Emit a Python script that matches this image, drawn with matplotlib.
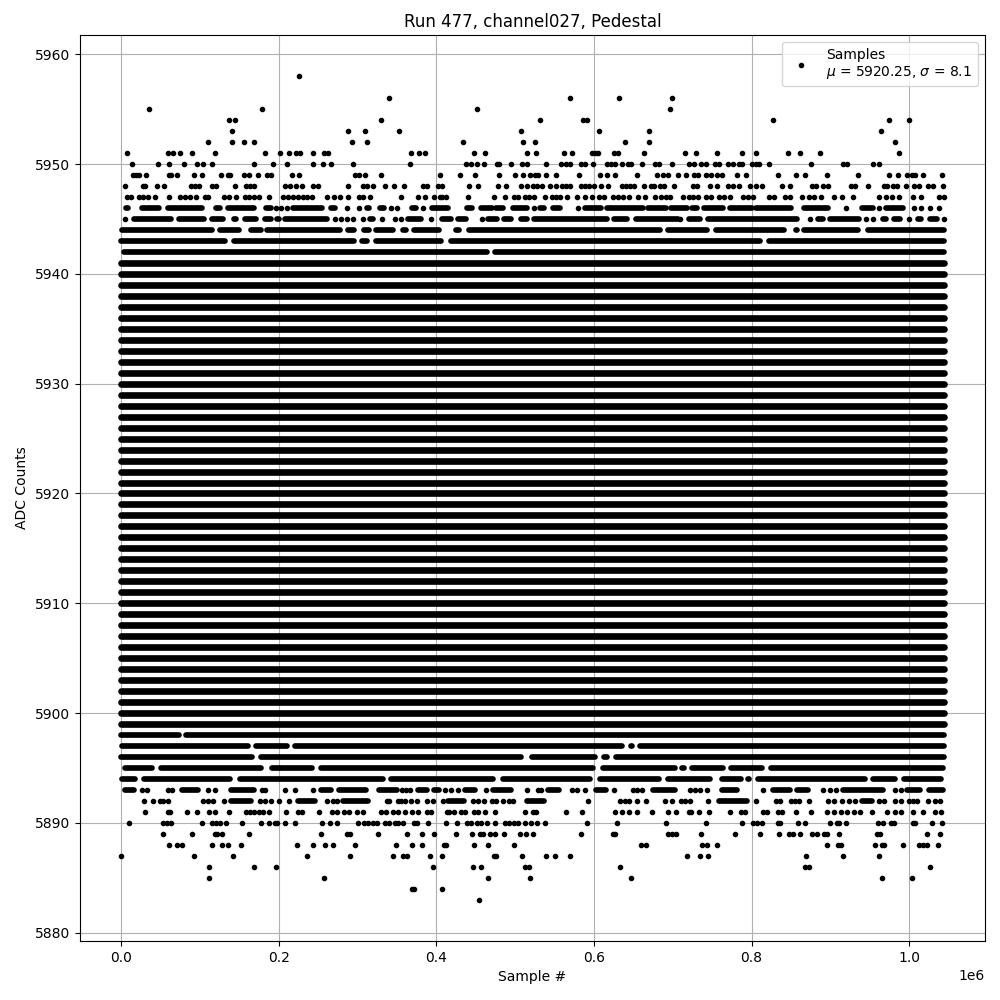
import matplotlib
matplotlib.use('Agg')
import matplotlib.pyplot as plt

# --- Configuration ---
TITLE = 'Run 477, channel027, Pedestal'
LEGEND_LABEL = 'Samples\n$\\mu$ = 5920.25, $\\sigma$ = 8.1'

# Separate samples per ADC level, sample # in thousands
s5958 = [226]
s5956 = [340, 569, 632, 699]
s5955 = [35.5, 179, 452, 697]
s5954 = [137.5, 144, 330, 532, 586, 591, 827, 975, 1000]
s5953 = [141, 288, 310, 352, 508, 607, 670, 964]
s5952 = [110, 141, 156, 169, 293, 312, 434, 510, 525, 640, 670, 982]
s5951 = [7.6, 60, 66, 75, 90, 119, 183, 202, 213, 222, 227, 244, 258, 263,
         368, 378, 386, 448, 462, 515, 527, 562, 572, 598, 601, 605, 626, 630, 664, 715,
         730, 756, 788, 806, 846, 862, 887, 987]
s5950 = [14, 47, 61, 80, 96, 104, 115, 168, 193, 211, 244, 256, 266, 294,
         367, 437, 444, 451, 461, 477, 480, 495, 509, 515, 539, 558, 564, 569, 583, 588,
         599, 617, 622, 627, 636, 643, 647, 661, 678, 683, 699, 720,
         727, 736, 742, 754, 759, 770, 777, 784, 788, 801, 805, 810, 822, 876, 916, 921, 954, 962]
s5949 = [15, 19, 23, 32, 61, 63, 71, 93, 102, 127, 136, 138, 156, 162, 174, 185, 190,
         217, 226, 297, 302, 310, 330,
         405, 430, 449, 480, 500, 510, 519, 525, 529, 539, 552, 581, 608, 616, 627, 654,
         680, 688, 694, 707, 717,
         727, 732, 742, 749, 756, 763, 782, 793, 833, 857, 868, 896, 935, 975, 986, 997,
         1003, 1008, 1017, 1042]
s5948 = [5, 28, 30, 46, 55, 89, 94, 99, 115, 120, 144, 159, 164, 169, 208, 214, 222, 230,
         244, 250, 288, 307, 312, 320, 335, 346,
         359, 383, 388, 402, 407, 442, 453, 478, 489, 508, 515, 523, 528, 534, 544, 552,
         560, 564, 570, 583, 589, 594, 600, 609, 618, 636, 641, 646, 651, 664, 673, 676,
         684, 689, 701,
         726, 731, 747, 756, 770, 777, 784, 798, 806, 813, 838, 849, 877, 882, 891, 897,
         926, 931, 948, 968, 972, 980, 985, 996, 1006, 1013, 1024, 1030, 1043]
s5947 = [8, 13, 23, 28, 34, 43, 61, 75, 81, 88, 95, 107, 110, 131, 137, 146, 157, 162,
         169, 175, 187, 206, 212, 218, 225, 231, 236, 242, 261, 270, 278, 288, 302, 307, 316,
         355, 377, 386, 397, 404, 407, 412, 440, 473, 487, 499, 503, 513, 518, 524, 538,
         547, 552, 557, 566, 578, 588, 597, 607, 613, 624, 631, 637, 645, 656, 665, 678,
         685, 692, 697, 713, 720,
         726, 732, 742, 749, 759, 765, 772, 789, 796, 802, 822, 829, 843, 849, 864, 873,
         879, 888, 905, 915, 929, 962, 971, 978, 987, 1005, 1015, 1038, 1044]
s5946 = [197, 203, 210, 287, 302, 343, 350, 383, 524, 580, 920, 962, 1006, 1015, 1027, 1038]
s5945 = [5, 272, 279, 287, 294, 307, 331, 347, 355, 393, 458, 709, 874, 945, 954, 1000, 1044]
s5893 = [27, 33, 60, 65, 110, 119, 179, 183, 208, 220, 244,
         356, 362, 366, 411, 419, 428, 463, 515, 529, 533, 572, 579, 588, 625,
         649, 655, 661,
         722, 728, 734, 744, 815, 891, 899, 907, 982, 989]
s5892 = [29, 41, 49, 53, 60, 104, 110, 117, 131, 176, 182, 190, 200, 213,
         261, 269, 274, 337, 340, 351,
         355, 360, 368, 375, 388, 396, 409, 447, 453, 461, 470, 476,
         485, 492, 497, 593, 633, 640, 645, 655, 666, 690, 699, 710,
         715, 722, 745, 806, 831, 836, 850, 855, 860, 873,
         897, 905, 915, 924, 931, 962, 968, 982, 989, 1000, 1005, 1010,
         1024, 1033, 1039]
s5891 = [30, 60, 62, 84, 96, 112, 119, 137, 159, 164, 169, 175, 180, 187, 209, 225, 230,
         251, 268, 274, 283, 289, 299, 307, 330, 336, 345, 351,
         360, 369, 377, 388, 393, 413, 416, 423, 431, 436, 448, 453, 462, 475, 513, 523,
         527, 565, 585, 627, 636, 645, 654, 674, 694, 704,
         720, 723, 733, 746, 772, 786, 792, 815, 820, 833, 838, 857, 876, 896, 904, 914,
         921, 930, 937, 953, 972, 982, 989, 1005, 1018, 1033, 1041]
s5890 = [10, 53, 58, 63, 103, 115, 121, 126, 133, 154, 178, 187, 195, 198, 208, 221, 255,
         265, 274, 301, 308, 313, 319, 325, 335, 340, 348, 351,
         358, 371, 376, 390, 412, 426, 439, 444, 451, 457, 464, 475, 487, 492, 499, 503,
         513, 520, 528, 538, 591, 629, 692,
         742, 788, 802, 807, 813, 833, 836, 859, 868, 900, 908, 911, 920, 961, 967, 977,
         981, 1005, 1008, 1029, 1042]
s5889 = [53, 90, 119, 122, 128, 162, 253, 286, 291, 326,
         363, 382, 397, 425, 445, 456, 459, 468, 475, 486, 506, 514, 523, 584, 624, 627,
         694, 699, 704,
         736, 779, 811, 835, 848, 853, 862, 877, 883, 892, 896, 911, 959, 963, 1023, 1039]
s5888 = [61, 71, 77, 115, 128, 135, 152, 223, 244, 259, 269, 297, 349,
         369, 382, 410, 412, 448, 466, 499, 660, 666,
         737, 744, 756, 896, 910, 914, 956, 965, 968, 992, 1013, 1018, 1022, 1036]
s5887 = [0, 93, 142, 236, 291, 345, 358, 363, 392, 407, 473, 476, 509, 539, 550, 569,
         718, 734, 745, 869, 916, 962]
s5886 = [112, 169, 197, 396, 447, 457, 513, 518, 633, 868, 873, 1027]
s5885 = [112, 258, 466, 519, 647, 966, 1004]
s5884 = [369, 372, 407]
s5883 = [454]

SPARSE_LEVELS = [5958, 5956, 5955, 5954, 5953, 5952, 5951, 5950, 5949, 5948, 5947, 5946, 5945,
                 5893, 5892, 5891, 5890, 5889, 5888, 5887, 5886, 5885, 5884, 5883]
SPARSE_SAMPLES = [s5958, s5956, s5955, s5954, s5953, s5952, s5951, s5950, s5949, s5948, s5947,
                  s5946, s5945, s5893, s5892, s5891, s5890, s5889, s5888, s5887, s5886, s5885,
                  s5884, s5883]

# Overplotted levels: runs of samples that merge into a solid stripe (start, end)
r5946 = [(6, 9), (26, 48), (60, 102), (120, 126), (135, 168), (184, 190), (218, 255),
         (266, 272), (312, 315), (328, 334), (369, 374), (395, 415), (439, 445), (457, 470),
         (476, 485), (497, 515), (532, 537), (548, 557), (589, 609), (617, 647), (649, 662),
         (668, 692), (698, 718), (725, 731), (739, 764), (772, 800), (805, 850), (867, 897),
         (940, 954), (970, 992)]
r5945 = [(16.5, 63.5), (73, 105), (115, 129), (143, 146), (157, 171), (182, 190), (198, 200),
         (208, 261), (316, 320), (364, 381), (407, 419), (427, 437), (466, 477), (486, 495),
         (508, 515), (524, 617), (626, 642), (653, 706), (721, 735), (745, 858), (884, 890),
         (899, 936), (967, 971), (981, 988), (1011, 1015), (1027, 1035)]
r5944 = [(1, 115), (125, 150), (158, 159), (165, 177), (185, 278), (288, 296), (308, 314),
         (324, 345), (358, 362), (372, 403), (413, 414), (425, 429), (441, 684), (694, 743),
         (755, 841), (857, 858), (867, 935), (948, 1044)]
r5943 = [(0, 132), (143, 295), (306, 312), (324, 406), (418, 811), (822, 1044)]
r5942 = [(3, 464), (474, 1044)]
r5898 = [(0, 74), (82, 1044)]
r5897 = [(1, 161), (171, 210), (220, 635), (647, 648), (658, 1044)]
r5896 = [(0, 166), (178, 508), (521, 601), (613, 617), (628, 1044)]
r5895 = [(5, 39), (50, 178), (191, 242), (253, 599), (612, 703), (712, 714), (724, 764),
         (774, 813), (825, 1043)]
r5894 = [(1, 18), (29, 138), (151, 332), (342, 472), (485, 595), (608, 682), (694, 747),
         (762, 787), (796, 797), (808, 944), (954, 982), (994, 1041)]
r5893 = [(5, 16), (77, 98), (140, 169), (254, 266), (277, 311), (327, 350), (377, 388),
         (397, 403), (436, 449), (472, 495), (542, 555), (602, 615), (675, 703), (763, 782),
         (827, 849), (858, 872), (916, 967), (997, 1014), (1025, 1043)]
r5892 = [(140, 165), (225, 246), (282, 313), (415, 435), (515, 536), (759, 794), (940, 953)]

RUN_LEVELS = [5946, 5945, 5944, 5943, 5942, 5898, 5897, 5896, 5895, 5894, 5893, 5892]
RUN_SPANS = [r5946, r5945, r5944, r5943, r5942, r5898, r5897, r5896, r5895, r5894, r5893, r5892]

# Levels that are one unbroken stripe across the whole run
BAND_LEVELS = list(range(5899, 5942))
BAND_START = 0
BAND_END = 1044


def main():
    fig, ax = plt.subplots(figsize=(10, 10))

    xs, ys = [], []
    for level, samples in zip(SPARSE_LEVELS, SPARSE_SAMPLES):
        xs += [s * 1000 for s in samples]
        ys += [level] * len(samples)
    ax.plot(xs, ys, 'k.', label=LEGEND_LABEL)

    # Stripes are about as wide as the dots, the full ones a little wider
    for level, spans in zip(RUN_LEVELS, RUN_SPANS):
        for start, end in spans:
            ax.hlines(level, start * 1000, end * 1000, color='k', linewidth=4.1,
                      capstyle='round', zorder=2)
    ax.hlines(BAND_LEVELS, BAND_START * 1000, BAND_END * 1000, color='k', linewidth=4.8,
              capstyle='round', zorder=2)

    ax.set_title(TITLE)
    ax.set_xlabel('Sample #')
    ax.set_ylabel('ADC Counts')
    ax.grid(True)
    ax.legend(loc='upper right')
    fig.subplots_adjust(left=0.08, right=0.985, top=0.965, bottom=0.059)
    fig.savefig('out.png', dpi=100)


if __name__ == "__main__":
    main()
